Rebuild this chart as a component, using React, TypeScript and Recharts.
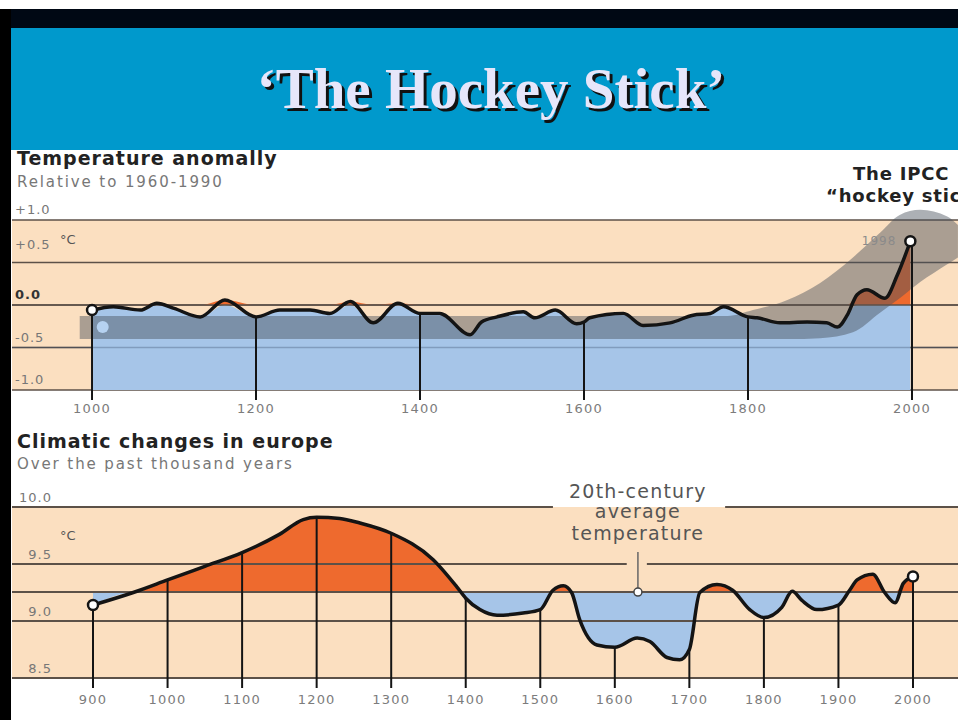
import React from 'react';
import {
  ComposedChart,
  Area,
  Line,
  XAxis,
  YAxis,
  CartesianGrid,
  ReferenceLine,
  ReferenceDot,
} from 'recharts';

// Top panel: IPCC reconstruction, anomaly relative to 1960-1990 (°C)
const anomalyYears = [
  1000, 1026, 1059, 1079, 1100, 1132, 1162, 1200, 1229, 1266, 1290, 1315, 1343, 1373, 1400,
  1424, 1461, 1475, 1494, 1526, 1540, 1565, 1591, 1600, 1607, 1648, 1672, 1705, 1733, 1754,
  1770, 1800, 1811, 1839, 1872, 1896, 1909, 1921, 1933, 1945, 1967, 1982, 1998,
];
const anomalyValues = [
  -0.06, -0.02, -0.06, 0.02, -0.04, -0.14, 0.06, -0.14, -0.06, -0.06, -0.1, 0.04, -0.21, 0.02, -0.1,
  -0.1, -0.35, -0.2, -0.14, -0.08, -0.15, -0.06, -0.22, -0.2, -0.15, -0.1, -0.24, -0.21, -0.12, -0.1,
  -0.02, -0.14, -0.15, -0.21, -0.2, -0.21, -0.26, -0.12, 0.12, 0.18, 0.08, 0.35, 0.75,
];

// grey "hockey stick" uncertainty band
const bandYears = [985, 1775, 1806, 1848, 1888, 1928, 1961, 1985, 2010, 2043, 2056];
const bandLow = [-0.4, -0.4, -0.4, -0.4, -0.39, -0.32, -0.09, 0.08, 0.27, 0.48, 0.56];
const bandHigh = [-0.13, -0.13, -0.06, 0.06, 0.26, 0.56, 0.85, 1.06, 1.12, 1.04, 0.94];

const anomalyTicks = [1000, 1200, 1400, 1600, 1800, 2000];
const anomalyAxis = [-1, -0.5, 0, 0.5, 1];
const ANOMALY_RANGE = [-1, 1.2];

// Bottom panel: European temperature (°C)
const europeYears = [
  900, 954, 1000, 1050, 1100, 1150, 1182, 1200, 1231, 1258, 1300, 1356, 1388, 1400, 1419, 1442,
  1477, 1500, 1517, 1531, 1542, 1553, 1576, 1600, 1630, 1647, 1670, 1687, 1700, 1714, 1737,
  1758, 1781, 1800, 1824, 1838, 1851, 1871, 1900, 1915, 1925, 1946, 1962, 1976, 1987, 2000,
];
const europeTemps = [
  9.14, 9.25, 9.36, 9.48, 9.6, 9.76, 9.89, 9.91, 9.9, 9.86, 9.77, 9.54, 9.3, 9.2, 9.1, 9.05,
  9.07, 9.1, 9.27, 9.31, 9.25, 9.01, 8.79, 8.77, 8.85, 8.82, 8.68, 8.66, 8.75, 9.25, 9.32,
  9.27, 9.1, 9.03, 9.12, 9.26, 9.18, 9.1, 9.14, 9.27, 9.36, 9.41, 9.25, 9.16, 9.33, 9.39,
];
const europeTicks = [900, 1000, 1100, 1200, 1300, 1400, 1500, 1600, 1700, 1800, 1900, 2000];
const europeAxis = [8.5, 9, 9.5, 10];
const CENTURY_AVG = 9.254;

const BEIGE = '#fbdfc0';
const BLUE = '#a6c5e8';
const ORANGE = '#ee6a2e';
const GRID = '#5c5148';
const INK = '#141414';
const FONT = '"DejaVu Sans", Verdana, sans-serif';

const topRows = anomalyYears.map((year, i) => ({ year, v: anomalyValues[i] }));
const bandRows = bandYears.map((year, i) => ({ year, range: [bandLow[i], bandHigh[i]] }));
const europeRows = europeYears.map((year, i) => ({ year, t: europeTemps[i] }));

const TOP_DOMAIN = [902.4, 2056.1];
const EU_DOMAIN = [791.3, 2060.4];

const nearest = (years: number[], vals: number[], t: number) => {
  let best = 0;
  years.forEach((y, i) => {
    if (Math.abs(y - t) < Math.abs(years[best] - t)) best = i;
  });
  return vals[best];
};

// grid rows only at the labelled ticks (uses the axis scale when it is exposed)
const anomalyGridRows = ({ yAxis, offset }: any) =>
  anomalyAxis.map((v) => {
    const s = yAxis && yAxis.scale;
    if (typeof s === 'function') return s(v);
    if (s && typeof s.map === 'function') return s.map(v);
    const [lo, hi] = ANOMALY_RANGE;
    return offset.top + ((hi - v) / (hi - lo)) * offset.height;
  });

const YearTick = ({ x, y, payload, shift }: any) => (
  <text x={x} y={y + shift} textAnchor="middle" fontFamily={FONT} fontSize={13} letterSpacing={1.2} fill="#7c7c7c">
    {payload.value}
  </text>
);

const AnomalyTick = ({ y, payload }: any) => {
  const v = payload.value;
  const txt = v === 0 ? '0.0' : (v > 0 ? '+' : '') + v.toFixed(1);
  return (
    <text
      x={15}
      y={y - (v === 0.5 ? 14 : 6)}
      fontFamily={FONT}
      fontSize={13}
      letterSpacing={1}
      fontWeight={v === 0 ? 'bold' : 'normal'}
      fill={v === 0 ? '#333' : '#777'}
    >
      {txt}
    </text>
  );
};

const EuropeTick = ({ y, payload }: any) => (
  <text x={52} y={y - 5} textAnchor="end" fontFamily={FONT} fontSize={13} letterSpacing={1} fill="#777">
    {payload.value.toFixed(1)}
  </text>
);

function markerDot(count: number, label?: string) {
  return (p: any) => {
    const { cx, cy, index } = p;
    if (index !== 0 && index !== count - 1) return <g key={`d${index}`} />;
    return (
      <g key={`d${index}`}>
        <circle cx={cx} cy={cy} r={5} fill="#fff" stroke={INK} strokeWidth={2.5} />
        {label && index === count - 1 && (
          <text x={cx - 14} y={cy + 4} textAnchor="end" fontFamily={FONT} fontSize={12} letterSpacing={1} fill="#8a8a8a">
            {label}
          </text>
        )}
      </g>
    );
  };
}

const AvgNote = ({ cx, cy }: any) => (
  <g>
    <line x1={cx} y1={cy - 40} x2={cx} y2={cy - 4} stroke="#666" strokeWidth={1.5} />
    <circle cx={cx} cy={cy} r={4} fill="#fff" stroke="#444" strokeWidth={1.5} />
    <g fontFamily={FONT} fontSize={19} letterSpacing={1.2} fill="#555" textAnchor="middle">
      <text x={cx} y={cy - 94}>20th-century</text>
      <text x={cx} y={cy - 74}>average</text>
      <text x={cx} y={cy - 52}>temperature</text>
    </g>
  </g>
);

function AnomalyChart() {
  const last = anomalyYears.length - 1;
  return (
    <ComposedChart width={958} height={270} margin={{ top: 53, right: 0, bottom: 0, left: 11 }}>
      <CartesianGrid
        vertical={false}
        horizontalCoordinatesGenerator={anomalyGridRows}
        horizontalFill={['none', BEIGE, BEIGE, BEIGE, BEIGE]}
        fillOpacity={1}
        stroke={GRID}
        strokeWidth={1.5}
      />
      <XAxis
        type="number"
        dataKey="year"
        domain={TOP_DOMAIN}
        ticks={anomalyTicks}
        interval={0}
        height={30}
        axisLine={false}
        tickSize={10}
        tickMargin={2}
        tickLine={{ stroke: INK, strokeWidth: 2 }}
        tick={<YearTick shift={11} />}
      />
      <YAxis
        type="number"
        domain={ANOMALY_RANGE}
        ticks={anomalyAxis}
        interval={0}
        width={1}
        axisLine={false}
        tickLine={false}
        tick={<AnomalyTick />}
      />
      <Area
        data={topRows}
        dataKey={(d: any) => [-1, Math.min(d.v, 0)]}
        type="monotone"
        fill={BLUE}
        fillOpacity={1}
        stroke="none"
        isAnimationActive={false}
      />
      <Area
        data={topRows}
        dataKey={(d: any) => [0, Math.max(d.v, 0)]}
        type="monotone"
        fill={ORANGE}
        fillOpacity={1}
        stroke="none"
        isAnimationActive={false}
      />
      <ReferenceLine y={-0.5} stroke="rgba(60,80,110,0.35)" strokeWidth={1.5} />
      <ReferenceLine y={0} stroke={GRID} strokeWidth={1.5} />
      <Area
        data={bandRows}
        dataKey="range"
        type="monotone"
        fill="#46505a"
        fillOpacity={0.45}
        stroke="none"
        isAnimationActive={false}
      />
      <ReferenceDot x={1013} y={-0.26} r={6} fill="#b6d2f1" stroke="none" />
      {anomalyTicks.map((t) => (
        <ReferenceLine
          key={t}
          segment={[
            { x: t, y: nearest(anomalyYears, anomalyValues, t) },
            { x: t, y: -1 },
          ]}
          stroke={INK}
          strokeWidth={2}
        />
      ))}
      <Line
        data={topRows}
        dataKey="v"
        type="monotone"
        stroke={INK}
        strokeWidth={3.5}
        dot={markerDot(topRows.length, String(anomalyYears[last]))}
        isAnimationActive={false}
      />
    </ComposedChart>
  );
}

function EuropeChart() {
  const [d0, d1] = EU_DOMAIN;
  return (
    <ComposedChart width={958} height={300} margin={{ top: 87, right: 0, bottom: 0, left: 11 }}>
      <CartesianGrid vertical={false} horizontal={false} fill={BEIGE} fillOpacity={1} />
      <XAxis
        type="number"
        dataKey="year"
        domain={EU_DOMAIN}
        ticks={europeTicks}
        interval={0}
        height={42}
        axisLine={false}
        tickSize={10}
        tickMargin={2}
        tickLine={{ stroke: INK, strokeWidth: 2 }}
        tick={<YearTick shift={14} />}
      />
      <YAxis
        type="number"
        domain={[8.5, 10]}
        ticks={europeAxis}
        interval={0}
        width={1}
        axisLine={false}
        tickLine={false}
        tick={<EuropeTick />}
      />
      <Area
        data={europeRows}
        dataKey={(d: any) => [Math.min(d.t, CENTURY_AVG), CENTURY_AVG]}
        type="monotone"
        fill={BLUE}
        fillOpacity={1}
        stroke="none"
        isAnimationActive={false}
      />
      <Area
        data={europeRows}
        dataKey={(d: any) => [CENTURY_AVG, Math.max(d.t, CENTURY_AVG)]}
        type="monotone"
        fill={ORANGE}
        fillOpacity={1}
        stroke="none"
        isAnimationActive={false}
      />
      <ReferenceLine segment={[{ x: d0, y: 10 }, { x: 1517, y: 10 }]} stroke={GRID} strokeWidth={2} />
      <ReferenceLine segment={[{ x: 1748, y: 10 }, { x: d1, y: 10 }]} stroke={GRID} strokeWidth={2} />
      <ReferenceLine segment={[{ x: d0, y: 9.5 }, { x: 1616, y: 9.5 }]} stroke={GRID} strokeWidth={2} />
      <ReferenceLine segment={[{ x: 1643, y: 9.5 }, { x: d1, y: 9.5 }]} stroke={GRID} strokeWidth={2} />
      <ReferenceLine y={CENTURY_AVG} stroke={GRID} strokeWidth={2} />
      <ReferenceLine y={9} stroke={GRID} strokeWidth={2} />
      <ReferenceLine y={8.5} stroke={GRID} strokeWidth={2} />
      {europeTicks.map((t) => (
        <ReferenceLine
          key={t}
          segment={[
            { x: t, y: nearest(europeYears, europeTemps, t) },
            { x: t, y: 8.5 },
          ]}
          stroke={INK}
          strokeWidth={2}
        />
      ))}
      <ReferenceDot x={1631} y={CENTURY_AVG} r={4} shape={AvgNote} ifOverflow="visible" />
      <Line
        data={europeRows}
        dataKey="t"
        type="monotone"
        stroke={INK}
        strokeWidth={3.5}
        dot={markerDot(europeRows.length)}
        isAnimationActive={false}
      />
    </ComposedChart>
  );
}

export default function App() {
  return (
    <div style={{ position: 'relative', width: 958, height: 720, overflow: 'hidden', background: '#fff' }}>
      <style>{'body{margin:0}'}</style>
      <div style={{ position: 'absolute', left: 0, top: 9, width: 958, height: 19, background: '#000814' }} />
      <div style={{ position: 'absolute', left: 0, top: 9, width: 11, height: 711, background: '#000' }} />
      <div style={{ position: 'absolute', left: 11, top: 28, width: 947, height: 122, background: '#0099cc' }} />

      <div style={{ position: 'absolute', left: 0, top: 150 }}>
        <AnomalyChart />
      </div>
      <div style={{ position: 'absolute', left: 0, top: 420 }}>
        <EuropeChart />
      </div>

      <svg width={958} height={720} style={{ position: 'absolute', left: 0, top: 0, pointerEvents: 'none' }}>
        <g fontFamily='"Liberation Serif", "Times New Roman", serif' fontSize={57} fontWeight="bold" textAnchor="middle">
          <text x={494} y={111} fill="#111">{'\u2018The Hockey Stick\u2019'}</text>
          <text x={491} y={108} fill="#e6e6fa">{'\u2018The Hockey Stick\u2019'}</text>
        </g>
        <g fontFamily={FONT}>
          <text x={17} y={165} fontSize={19} fontWeight="bold" letterSpacing={1} fill="#222">Temperature anomally</text>
          <text x={17} y={187} fontSize={15} letterSpacing={1.9} fill="#777">Relative to 1960-1990</text>
          <text x={60} y={244} fontSize={13} fill="#555">°C</text>
          <text x={853} y={180} fontSize={18} fontWeight="bold" letterSpacing={0.8} fill="#222">The IPCC</text>
          <text x={826} y={202} fontSize={18} fontWeight="bold" letterSpacing={0.8} fill="#222">{'\u201Chockey stick\u201D'}</text>
          <text x={17} y={448} fontSize={19} fontWeight="bold" letterSpacing={1} fill="#222">Climatic changes in europe</text>
          <text x={17} y={469} fontSize={15} letterSpacing={1.9} fill="#777">Over the past thousand years</text>
          <text x={60} y={540} fontSize={13} fill="#555">°C</text>
        </g>
      </svg>
    </div>
  );
}
